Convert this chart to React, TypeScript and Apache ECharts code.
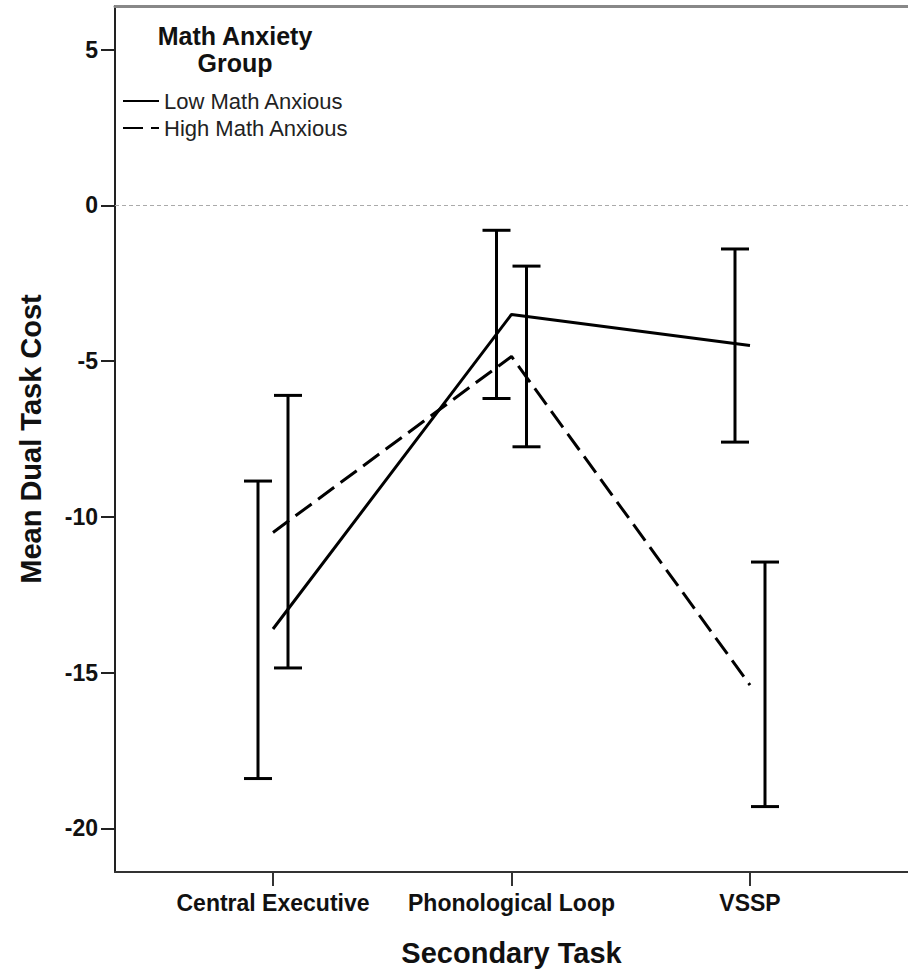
import React, { useEffect, useRef } from "react";
import * as echarts from "echarts";

const categories = ["Central Executive", "Phonological Loop", "VSSP"];
const categoryPositions = [1, 2, 3];
const yTickValues = [-20, -15, -10, -5, 0, 5];

const lowMeans = [-13.6, -3.5, -4.5];
const lowCILower = [-18.4, -6.2, -7.6];
const lowCIUpper = [-8.85, -0.8, -1.4];

const highMeans = [-10.5, -4.85, -15.4];
const highCILower = [-14.85, -7.75, -19.3];
const highCIUpper = [-6.1, -1.95, -11.45];

const seriesNames = ["Low Math Anxious", "High Math Anxious"];

const FONT = "'Liberation Sans', Arial, Helvetica, sans-serif";

function errorBarRenderer(offsetPx: number, capHalf: number) {
  return (params: any, api: any) => {
    const x = api.value(0);
    const lo = api.value(1);
    const hi = api.value(2);
    const pTop = api.coord([x, hi]);
    const pBot = api.coord([x, lo]);
    const cx = pTop[0] + offsetPx;
    const style = { stroke: "#000", lineWidth: 3 };
    return {
      type: "group",
      children: [
        { type: "line", shape: { x1: cx, y1: pTop[1], x2: cx, y2: pBot[1] }, style },
        { type: "line", shape: { x1: cx - capHalf, y1: pTop[1], x2: cx + capHalf, y2: pTop[1] }, style },
        { type: "line", shape: { x1: cx - capHalf, y1: pBot[1], x2: cx + capHalf, y2: pBot[1] }, style },
      ],
    };
  };
}

export default function App() {
  const ref = useRef<HTMLDivElement>(null);
  useEffect(() => {
    document.body.style.margin = "0";
    if (!ref.current) return;
    const chart = echarts.init(ref.current, null, { renderer: "svg" });

    const lowLine = categoryPositions.map((p, i) => [p, lowMeans[i]]);
    const highLine = categoryPositions.map((p, i) => [p, highMeans[i]]);
    const lowErr = categoryPositions.map((p, i) => [p, lowCILower[i], lowCIUpper[i]]);
    const highErr = categoryPositions.map((p, i) => [p, highCILower[i], highCIUpper[i]]);

    const xMin = 0.3375;
    const xMax = 3.6625;

    chart.setOption({
      animation: false,
      backgroundColor: "#fff",
      title: {
        text: "Math Anxiety\nGroup",
        left: 230,
        top: 17,
        textAlign: "center",
        textStyle: {
          fontFamily: FONT,
          fontSize: 25,
          fontWeight: "bold",
          color: "#111",
          lineHeight: 27,
        },
      },
      legend: {
        data: seriesNames,
        orient: "vertical",
        left: 117,
        top: 85,
        itemWidth: 36,
        itemHeight: 14,
        itemGap: 5,
        itemStyle: { color: "transparent", borderWidth: 0, opacity: 0 },
        textStyle: { fontFamily: FONT, fontSize: 22, color: "#222" },
        selectedMode: false,
      },
      grid: { left: 115, top: 6, width: 803, height: 866 },
      xAxis: [
        {
          type: "value",
          min: xMin,
          max: xMax,
          position: "bottom",
          splitLine: { show: false },
          axisLine: { show: true, onZero: false, lineStyle: { color: "#333", width: 2 } },
          axisTick: {
            show: true,
            length: 14,
            customValues: categoryPositions,
            lineStyle: { color: "#333", width: 2 },
          },
          axisLabel: {
            customValues: categoryPositions,
            formatter: (v: number) => categories[Math.round(v) - 1] ?? "",
            fontFamily: FONT,
            fontSize: 23,
            fontWeight: "bold",
            color: "#111",
            margin: 19,
          },
          name: "Secondary Task",
          nameLocation: "middle",
          nameGap: 66,
          nameTextStyle: { fontFamily: FONT, fontSize: 29, fontWeight: "bold", color: "#111" },
        },
        {
          type: "value",
          min: xMin,
          max: xMax,
          position: "top",
          splitLine: { show: false },
          axisLine: { show: true, onZero: false, lineStyle: { color: "#888", width: 3 } },
          axisTick: { show: false },
          axisLabel: { show: false },
        },
      ],
      yAxis: {
        type: "value",
        min: -21.4,
        max: 6.4,
        splitLine: { show: false },
        axisLine: { show: true, onZero: false, lineStyle: { color: "#222", width: 2 } },
        axisTick: {
          show: true,
          length: 14,
          customValues: yTickValues,
          lineStyle: { color: "#222", width: 2 },
        },
        axisLabel: {
          customValues: yTickValues,
          fontFamily: FONT,
          fontSize: 23,
          fontWeight: "bold",
          color: "#111",
          margin: 17,
        },
        name: "Mean Dual Task Cost",
        nameLocation: "middle",
        nameGap: 70,
        nameRotate: 90,
        nameTextStyle: { fontFamily: FONT, fontSize: 29, fontWeight: "bold", color: "#111" },
      },
      series: [
        {
          name: seriesNames[0],
          type: "line",
          data: lowLine,
          symbol: "none",
          lineStyle: { color: "#000", width: 3 },
          itemStyle: { color: "#000" },
          markLine: {
            silent: true,
            symbol: ["none", "none"],
            label: { show: false },
            lineStyle: { color: "#aaa", width: 1, type: [4, 3] },
            data: [{ yAxis: 0 }],
          },
          z: 3,
        },
        {
          name: seriesNames[1],
          type: "line",
          data: highLine,
          symbol: "none",
          lineStyle: { color: "#000", width: 3, type: [20, 8] },
          itemStyle: { color: "#000" },
          z: 3,
        },
        {
          name: "lowErr",
          type: "custom",
          data: lowErr,
          renderItem: errorBarRenderer(-15, 14),
          encode: { x: 0, y: [1, 2] },
          z: 4,
        },
        {
          name: "highErr",
          type: "custom",
          data: highErr,
          renderItem: errorBarRenderer(15, 14),
          encode: { x: 0, y: [1, 2] },
          z: 4,
        },
      ],
    });
    return () => chart.dispose();
  }, []);
  return <div ref={ref} style={{ width: 908, height: 972 }} />;
}
